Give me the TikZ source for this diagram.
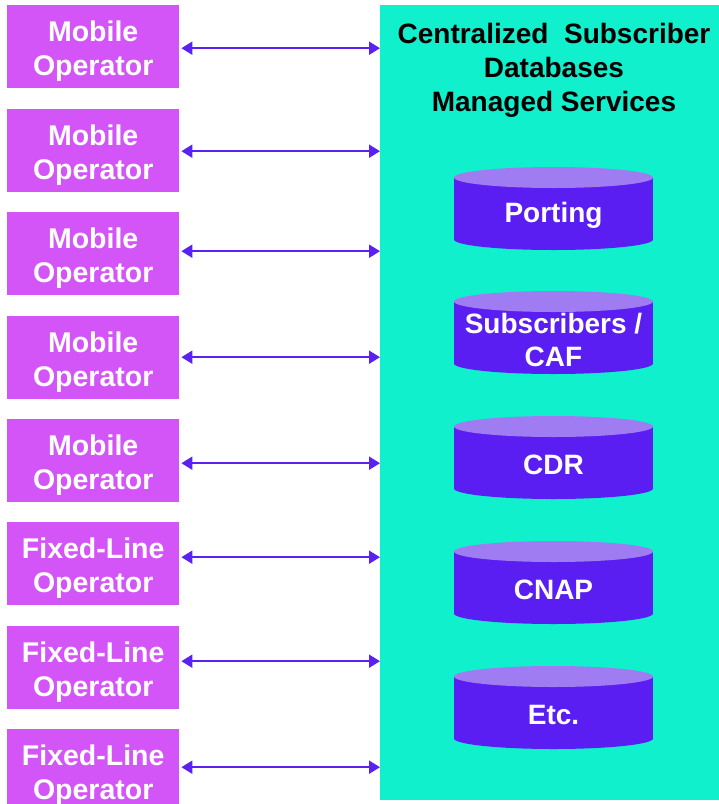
\documentclass[tikz,border=0pt]{standalone}
\usepackage{fontspec}
\setmainfont{Liberation Sans}
\usetikzlibrary{arrows.meta}

\definecolor{opfill}{HTML}{D455F7}
\definecolor{panelfill}{HTML}{10F0CC}
\definecolor{linkcol}{HTML}{5B21F0}
\definecolor{cylbodycol}{HTML}{5A1EF2}
\definecolor{cyltopcol}{HTML}{A07CF3}

% database cylinder: name, top edge, label
\newcommand\dbcyl[3]{%
  \fill[cylbodycol] (454,#2+10.5) rectangle (653,#2+72.5);
  \fill[cylbodycol] (553.5,#2+72.5) ellipse[x radius=99.5pt,y radius=10.5pt];
  \fill[cyltopcol] (553.5,#2+10.5) ellipse[x radius=99.5pt,y radius=10.5pt];
  \node[dbtext] (#1) at (553.5,#2+48.5) {#3};
}

% operator box: name, top edge, label
\newcommand\opbox[3]{%
  \node[optbox] (#1) at (7,#2) {};
  \node[optlabel] (#1text) at ([yshift=-4pt]#1.center) {#3};
}

\begin{document}
\begin{tikzpicture}[x=1pt,y=-1pt,
  optbox/.style={fill=opfill, draw=none, inner sep=0pt,
    minimum width=172pt, minimum height=83pt, anchor=north west},
  optlabel/.style={text=white, align=center, inner sep=0pt,
    font=\bfseries\fontsize{28.5}{34}\selectfont},
  paneltitle/.style={align=center, text=black, inner sep=0pt,
    font=\bfseries\fontsize{28}{34}\selectfont},
  dbtext/.style={align=center, text=white, inner sep=0pt,
    font=\bfseries\fontsize{28}{33}\selectfont},
  link/.style={draw=linkcol, line width=2pt, shorten <=2pt,
    {Triangle[width=13pt,length=11pt]}-{Triangle[width=13pt,length=11pt]}}]

\useasboundingbox (0,0) rectangle (719,804);
\fill[white] (0,0) rectangle (719,804);

% central managed-services panel
\node[fill=panelfill, draw=none, inner sep=0pt, anchor=north west,
  minimum width=342pt, minimum height=795pt] (panel) at (380,5) {};
\node[paneltitle] (title) at (554,70) {Centralized\ \ Subscriber\\Databases\\Managed Services};

% operators
\opbox{b1}{5}{Mobile\\Operator}
\opbox{b2}{109}{Mobile\\Operator}
\opbox{b3}{212}{Mobile\\Operator}
\opbox{b4}{316}{Mobile\\Operator}
\opbox{b5}{419}{Mobile\\Operator}
\opbox{b6}{522}{Fixed-Line\\Operator}
\opbox{b7}{626}{Fixed-Line\\Operator}
\opbox{b8}{729}{Fixed-Line\\Operator}

% links to the panel
\draw[link] ([yshift=-1.5pt]b1.east) -- ([yshift=-1.5pt]b1.east -| panel.west);
\draw[link] ([yshift=-0.5pt]b2.east) -- ([yshift=-0.5pt]b2.east -| panel.west);
\draw[link] ([yshift=2.5pt]b3.east) -- ([yshift=2.5pt]b3.east -| panel.west);
\draw[link] ([yshift=0.5pt]b4.east) -- ([yshift=0.5pt]b4.east -| panel.west);
\draw[link] ([yshift=-2.5pt]b5.east) -- ([yshift=-2.5pt]b5.east -| panel.west);
\draw[link] ([yshift=6.5pt]b6.east) -- ([yshift=6.5pt]b6.east -| panel.west);
\draw[link] ([yshift=6.5pt]b7.east) -- ([yshift=6.5pt]b7.east -| panel.west);
\draw[link] ([yshift=3.5pt]b8.east) -- ([yshift=3.5pt]b8.east -| panel.west);

% databases
\dbcyl{db1}{167}{Porting}
\dbcyl{db2}{291}{Subscribers /\\CAF}
\dbcyl{db3}{416}{CDR}
\dbcyl{db4}{541}{CNAP}
\dbcyl{db5}{666}{Etc.}

\end{tikzpicture}
\end{document}
